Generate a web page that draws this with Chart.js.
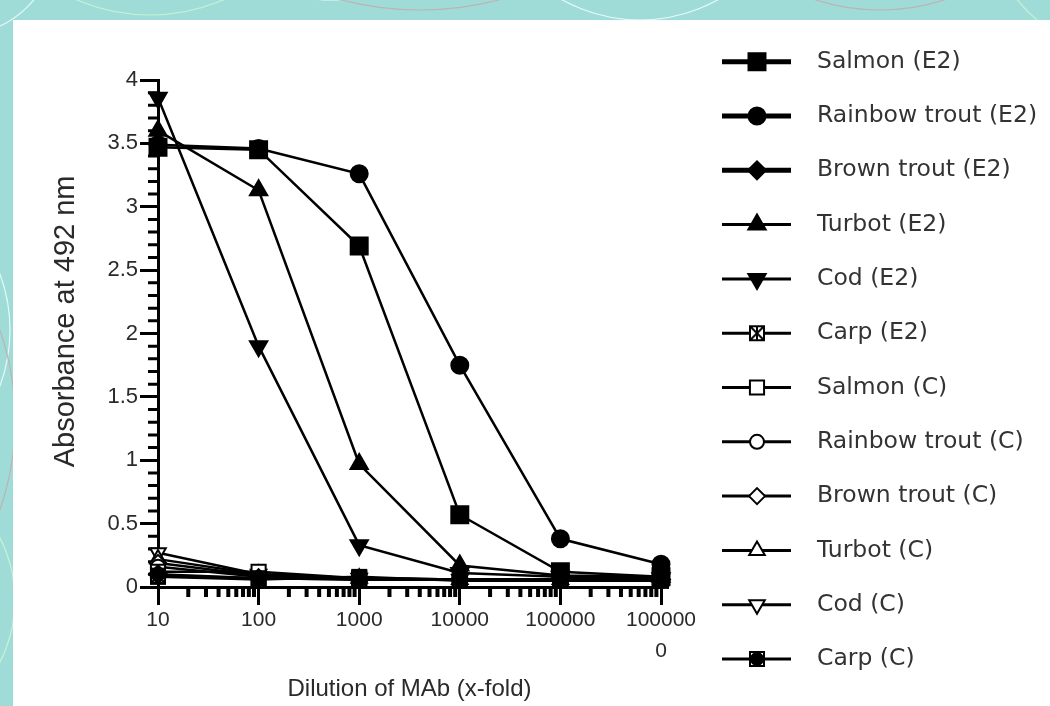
<!DOCTYPE html>
<html>
<head>
<meta charset="utf-8">
<script src="https://cdn.jsdelivr.net/npm/chart.js"></script>
<style>
  html, body { margin: 0; padding: 0; }
  body { width: 1050px; height: 706px; background: #9fdcd8; position: relative; overflow: hidden; }
  #deco { position: absolute; left: 0; top: 0; }
  #panel { position: absolute; left: 13px; top: 20px; width: 1037px; height: 686px; background: #fff; }
</style>
</head>
<body>
<svg id="deco" width="1050" height="706" fill="none" stroke-width="1.2">
  <circle cx="-40" cy="-60" r="95" stroke="#e6f9fb"/>
  <circle cx="150" cy="-170" r="185" stroke="#c8f2d4"/>
  <circle cx="330" cy="-120" r="120" stroke="#e6f9fb"/>
  <circle cx="420" cy="-300" r="310" stroke="#bfb2b2"/>
  <circle cx="640" cy="-140" r="160" stroke="#e6f9fb"/>
  <circle cx="880" cy="-200" r="210" stroke="#bfb2b2"/>
  <circle cx="1120" cy="-80" r="130" stroke="#c8f2d4"/>
  <circle cx="-150" cy="330" r="160" stroke="#e6f9fb"/>
  <circle cx="-260" cy="420" r="275" stroke="#bfb2b2"/>
  <circle cx="-120" cy="600" r="135" stroke="#c8f2d4"/>
</svg>
<div id="panel"><canvas id="myChart" width="1037" height="686"></canvas></div>
<script>
const dilutions = [10, 100, 1000, 10000, 100000, 1000000];
const xTickLabels = ['10', '100', '1000', '10000', '100000', ['100000', '0']];

const seriesNames = [
  'Salmon (E2)', 'Rainbow trout (E2)', 'Brown trout (E2)', 'Turbot (E2)', 'Cod (E2)', 'Carp (E2)',
  'Salmon (C)', 'Rainbow trout (C)', 'Brown trout (C)', 'Turbot (C)', 'Cod (C)', 'Carp (C)'
];

const salmonE2  = [3.47, 3.45, 2.69, 0.57, 0.12, 0.08];
const rainbowE2 = [3.49, 3.46, 3.26, 1.75, 0.38, 0.18];
const brownE2   = [0.10, 0.07, 0.06, 0.06, 0.06, 0.06];
const turbotE2  = [3.60, 3.13, 0.97, 0.17, 0.09, 0.08];
const codE2     = [3.86, 1.90, 0.33, 0.11, 0.08, 0.07];
const carpE2    = [0.09, 0.07, 0.06, 0.06, 0.06, 0.06];
const salmonC   = [0.12, 0.12, 0.07, 0.06, 0.06, 0.05];
const rainbowC  = [0.16, 0.08, 0.06, 0.06, 0.05, 0.05];
const brownC    = [0.19, 0.09, 0.06, 0.06, 0.05, 0.05];
const turbotC   = [0.22, 0.10, 0.07, 0.06, 0.06, 0.06];
const codC      = [0.27, 0.10, 0.07, 0.06, 0.06, 0.06];
const carpC     = [0.08, 0.06, 0.08, 0.05, 0.05, 0.05];

const seriesValues = [salmonE2, rainbowE2, brownE2, turbotE2, codE2, carpE2,
                      salmonC, rainbowC, brownC, turbotC, codC, carpC];

// little canvases for the two carp markers
function boxMarker(filled) {
  const c = document.createElement('canvas');
  c.width = 18; c.height = 18;
  const g = c.getContext('2d');
  g.fillStyle = '#fff';
  g.fillRect(1, 1, 16, 16);
  g.strokeStyle = '#000';
  g.lineWidth = 2;
  g.strokeRect(2, 2, 14, 14);
  if (filled) {
    g.fillStyle = '#000';
    g.beginPath(); g.arc(9, 9, 7, 0, Math.PI * 2); g.fill();
  } else {
    g.beginPath();
    g.moveTo(2, 2); g.lineTo(16, 16);
    g.moveTo(16, 2); g.lineTo(2, 16);
    g.moveTo(9, 2); g.lineTo(9, 16);
    g.stroke();
  }
  return c;
}

const markers = [
  { style: 'rect', radius: 12, fill: '#000' },
  { style: 'circle', radius: 8.5, fill: '#000' },
  { style: 'rectRot', radius: 9, fill: '#000' },
  { style: 'triangle', radius: 10, fill: '#000' },
  { style: 'triangle', radius: 10, fill: '#000', rot: 180 },
  { style: boxMarker(false), radius: 9, fill: '#fff' },
  { style: 'rect', radius: 10, fill: '#fff' },
  { style: 'circle', radius: 7, fill: '#fff' },
  { style: 'rectRot', radius: 8, fill: '#fff' },
  { style: 'triangle', radius: 9, fill: '#fff' },
  { style: 'triangle', radius: 9, fill: '#fff', rot: 180 },
  { style: boxMarker(true), radius: 9, fill: '#000' }
];
const legendLineWidths = [5, 5, 5, 3, 3, 3, 3, 3, 3, 3, 3, 3];

const datasets = seriesNames.map((name, i) => ({
  label: name,
  data: dilutions.map((d, j) => ({ x: d, y: seriesValues[i][j] })),
  borderColor: '#000',
  borderWidth: 2.5,
  pointStyle: markers[i].style,
  pointRadius: markers[i].radius,
  pointRotation: markers[i].rot || 0,
  pointBackgroundColor: markers[i].fill,
  pointBorderColor: '#000',
  pointBorderWidth: 2,
  clip: false
}));

const minorTicks = {
  id: 'minorTicks',
  beforeDatasetsDraw(chart) {
    const { ctx, chartArea } = chart;
    const x = chart.scales.x, y = chart.scales.y;
    ctx.save();
    ctx.strokeStyle = '#000';
    ctx.lineWidth = 3;
    ctx.beginPath();
    for (let i = 1; i < 40; i++) {
      if (i % 5 === 0) continue;
      const py = y.getPixelForValue(i / 10);
      ctx.moveTo(chartArea.left - 10, py);
      ctx.lineTo(chartArea.left, py);
    }
    ctx.stroke();
    ctx.lineWidth = 4;
    ctx.beginPath();
    for (let e = 1; e < 6; e++) {
      for (let m = 2; m < 10; m++) {
        const px = x.getPixelForValue(m * Math.pow(10, e));
        ctx.moveTo(px, chartArea.bottom);
        ctx.lineTo(px, chartArea.bottom + 10);
      }
    }
    ctx.stroke();
    ctx.restore();
  }
};

const lineLegend = {
  id: 'lineLegend',
  afterDraw(chart) {
    const ctx = chart.ctx;
    chart.data.datasets.forEach((ds, i) => {
      const ly = 41.7 + i * 54.3;
      ctx.save();
      ctx.strokeStyle = '#000';
      ctx.lineWidth = legendLineWidths[i];
      ctx.beginPath();
      ctx.moveTo(709, ly);
      ctx.lineTo(778, ly);
      ctx.stroke();
      ctx.fillStyle = ds.pointBackgroundColor;
      ctx.lineWidth = ds.pointBorderWidth;
      Chart.helpers.drawPoint(ctx, {
        pointStyle: ds.pointStyle,
        rotation: ds.pointRotation,
        radius: ds.pointRadius,
        borderWidth: ds.pointBorderWidth
      }, 744, ly);
      ctx.fillStyle = '#333';
      ctx.font = '23.5px "DejaVu Sans"';
      ctx.textBaseline = 'middle';
      ctx.textAlign = 'left';
      ctx.fillText(ds.label, 804, ly);
      ctx.restore();
    });
  }
};

new Chart(document.getElementById('myChart'), {
  type: 'line',
  data: { datasets },
  plugins: [minorTicks, lineLegend],
  options: {
    responsive: false,
    animation: false,
    layout: { padding: { left: 0, top: 60, right: 389, bottom: 0 } },
    scales: {
      x: {
        type: 'logarithmic',
        min: 10,
        max: 1000000,
        afterBuildTicks: s => { s.ticks = dilutions.map(v => ({ value: v })); },
        afterFit: s => { s.height = 119; },
        ticks: {
          autoSkip: false,
          maxRotation: 0,
          padding: 0,
          color: '#2a2a2a',
          font: { family: 'Liberation Sans', size: 21, lineHeight: '31px' },
          callback: (v, i) => xTickLabels[i]
        },
        grid: { drawOnChartArea: false, tickLength: 18, tickWidth: 3, tickColor: '#000' },
        border: { display: true, color: '#000', width: 3 },
        title: {
          display: true,
          text: 'Dilution of MAb (x-fold)',
          color: '#2a2a2a',
          font: { family: 'Liberation Sans', size: 24 },
          padding: { top: 0, bottom: 2 }
        }
      },
      y: {
        min: 0,
        max: 4,
        afterFit: s => { s.width = 145; },
        ticks: {
          stepSize: 0.5,
          padding: 2,
          color: '#2a2a2a',
          font: { family: 'Liberation Sans', size: 22 },
          callback: v => String(Math.round(v * 10) / 10)
        },
        grid: { drawOnChartArea: false, tickLength: 18, tickWidth: 3, tickColor: '#000' },
        border: { display: true, color: '#000', width: 3 },
        title: {
          display: true,
          text: '   Absorbance at 492 nm',
          color: '#2a2a2a',
          font: { family: 'Liberation Sans', size: 29 },
          padding: { top: 36, bottom: 0 }
        }
      }
    },
    plugins: {
      legend: { display: false },
      tooltip: { enabled: false }
    }
  }
});
</script>
</body>
</html>
